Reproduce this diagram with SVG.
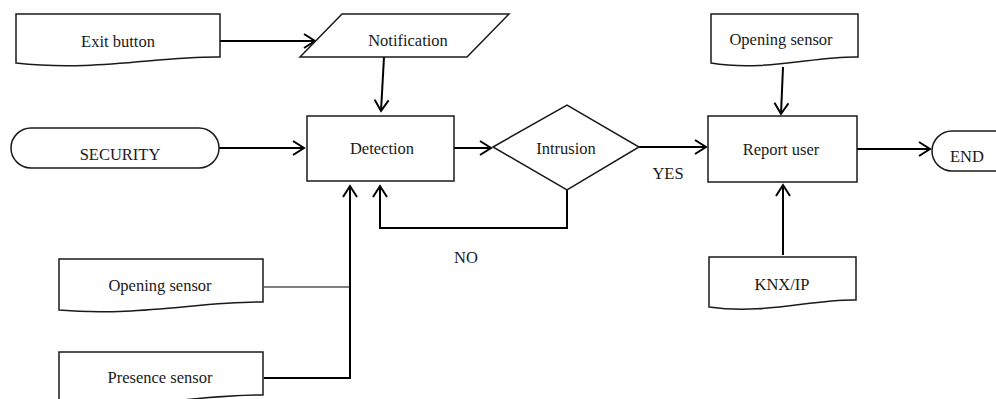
<svg xmlns="http://www.w3.org/2000/svg" width="996" height="399" viewBox="0 0 996 399">
  <style>
    .shape { fill: #ffffff; stroke: #1a1a1a; stroke-width: 1.5; }
    .lbl { font-family: "Liberation Serif", "Times New Roman", serif; font-size: 16.5px; fill: #1a1a1a; text-anchor: middle; }
    .wire { fill: none; stroke: #000000; stroke-width: 2; }
    .thin { fill: none; stroke: #000000; stroke-width: 1.2; }
  </style>
  <defs>
    <marker id="open" markerWidth="14" markerHeight="16" refX="12" refY="8" orient="auto" markerUnits="userSpaceOnUse">
      <path d="M1,1 L12,8 L1,15" fill="none" stroke="#000" stroke-width="2"/>
    </marker>
  </defs>
  <rect width="996" height="399" fill="#ffffff"/>

  <!-- connectors -->
  <g id="connectors">
    <path class="wire" d="M220,41 H315" marker-end="url(#open)"/>
    <path class="wire" d="M384,57 L381,111" marker-end="url(#open)"/>
    <path class="wire" d="M219,148 H304" marker-end="url(#open)"/>
    <path class="wire" d="M454,148 H491" marker-end="url(#open)"/>
    <path class="wire" d="M639,147 H706" marker-end="url(#open)"/>
    <path class="wire" d="M783,67 L781,114" marker-end="url(#open)"/>
    <path class="wire" d="M857,149 H930" marker-end="url(#open)"/>
    <path class="wire" d="M783,255 V185" marker-end="url(#open)"/>
    <path class="wire" d="M567,190 V228 H380 V186" marker-end="url(#open)"/>
    <path class="wire" d="M264,378 H350 V186" marker-end="url(#open)"/>
    <path class="thin" d="M264,287 H350"/>
  </g>

  <g id="exit-button">
    <path class="shape" d="M16,14 H220 V57 C160,56 95,72 16,63 Z"/>
    <text class="lbl" x="118" y="47">Exit button</text>
  </g>

  <g id="notification">
    <path class="shape" d="M342,14 H509 L467,57 H300 Z"/>
    <text class="lbl" x="408" y="46">Notification</text>
  </g>

  <g id="security">
    <rect class="shape" x="11" y="128" width="208" height="40" rx="20" ry="20"/>
    <text class="lbl" x="120" y="160">SECURITY</text>
  </g>

  <g id="detection">
    <rect class="shape" x="307" y="116" width="147" height="65"/>
    <text class="lbl" x="382" y="154">Detection</text>
  </g>

  <g id="intrusion">
    <path class="shape" d="M493,147 L567,105 L639,147 L567,190 Z"/>
    <text class="lbl" x="566" y="154">Intrusion</text>
  </g>

  <g id="report-user">
    <rect class="shape" x="708" y="116" width="149" height="66"/>
    <text class="lbl" x="781" y="155">Report user</text>
  </g>

  <g id="opening-sensor-top">
    <path class="shape" d="M711,14 H858 V57 C815,56 765,72 711,63 Z"/>
    <text class="lbl" x="781" y="45">Opening sensor</text>
  </g>

  <g id="end">
    <path class="shape" d="M1000,131 H952 A20,20 0 0 0 952,171 H1000"/>
    <text class="lbl" x="967" y="162">END</text>
  </g>

  <g id="knx-ip">
    <path class="shape" d="M709,257 H856 V300 C812,299 765,315 709,307 Z"/>
    <text class="lbl" x="782" y="290">KNX/IP</text>
  </g>

  <g id="opening-sensor-left">
    <path class="shape" d="M59,259 H263 V302 C205,301 135,317 59,310 Z"/>
    <text class="lbl" x="160" y="291">Opening sensor</text>
  </g>

  <g id="presence-sensor">
    <path class="shape" d="M59,352 H263 V395 C205,394 135,410 59,403 Z"/>
    <text class="lbl" x="160" y="383">Presence sensor</text>
  </g>

  <g id="labels">
    <text class="lbl" x="668" y="179">YES</text>
    <text class="lbl" x="466" y="263">NO</text>
  </g>
</svg>
